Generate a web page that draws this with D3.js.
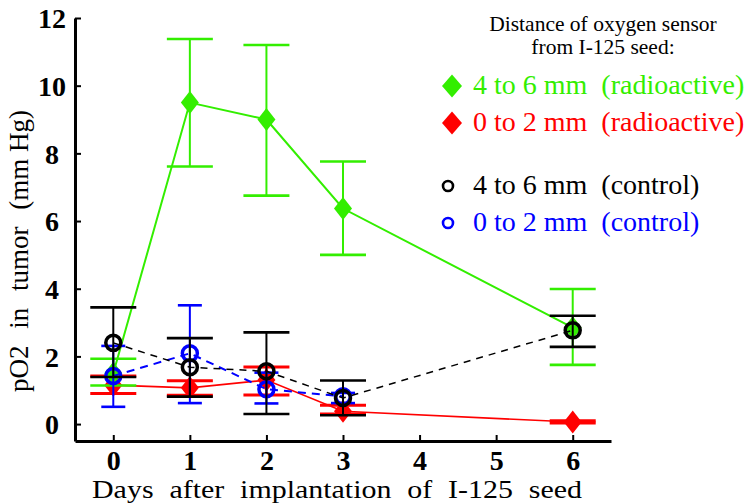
<!DOCTYPE html>
<html lang="en">
<head>
    <meta charset="UTF-8">
    <title>pO2 in tumor</title>
    <style>
        body { margin: 0; background: #fff; }
    </style>
</head>
<body>
<div id="chart"></div>
<script src="https://cdn.jsdelivr.net/npm/d3@7"></script>
<script>
    // data
    const days = [0, 1, 2, 3, 6];
    const blueDays = [0, 1, 2, 3];

    const greenMean = [1.5, 9.5, 9.0, 6.37, 2.85];
    const greenHi = [1.93, 11.38, 11.2, 7.76, 3.99];
    const greenLo = [1.14, 7.61, 6.75, 5.0, 1.75];

    const redMean = [1.15, 1.07, 1.3, 0.38, 0.06];
    const redHi = [1.42, 1.28, 1.69, 0.56, 0.1];
    const redLo = [0.9, 0.85, 0.86, 0.3, 0.03];

    const blackMean = [2.4, 1.68, 1.56, 0.77, 2.77];
    const blackHi = [3.45, 2.54, 2.71, 1.29, 3.2];
    const blackLo = [1.39, 0.81, 0.3, 0.26, 2.28];

    const blueMean = [1.42, 2.09, 1.03, 0.82];
    const blueHi = [2.31, 3.51, 1.52, 0.92];
    const blueLo = [0.51, 0.62, 0.61, 0.62];

    const xTicks = [0, 1, 2, 3, 4, 5, 6];
    const yTicks = [0, 2, 4, 6, 8, 10, 12];

    const legendTitle = ["Distance of oxygen sensor", "from I-125 seed:"];
    const legendLabels = ["4 to 6 mm\u00a0 (radioactive)", "0 to 2 mm\u00a0 (radioactive)",
        "4 to 6 mm\u00a0 (control)", "0 to 2 mm\u00a0 (control)"];

    const GREEN = "#33ee00", RED = "#ff0000", BLUE = "#0000ff", BLACK = "#000";
    const SERIF = "'Liberation Serif', 'Times New Roman', Times, serif";

    const width = 753, height = 503;

    let svg = d3.select("#chart")
        .append("svg")
        .attr("width", width)
        .attr("height", height)
        .attr("font-family", SERIF);

    var x = d3.scaleLinear().domain([-0.5, 6.5]).range([75, 611]);
    var y = d3.scaleLinear().domain([-0.5, 12]).range([441, 18]);

    // axes
    var xAxis = d3.axisBottom(x).tickValues(xTicks).tickFormat(d3.format("d"))
        .tickSizeInner(-6).tickSizeOuter(0);
    var yAxis = d3.axisLeft(y).tickValues(yTicks).tickFormat(d3.format("d"))
        .tickSizeInner(-6).tickSizeOuter(0);

    let gx = svg.append("g").attr("transform", "translate(0,441)").call(xAxis);
    let gy = svg.append("g").attr("transform", "translate(75,0)").call(yAxis);

    [gx, gy].forEach(g => {
        g.attr("font-family", SERIF).attr("font-size", 28);
        g.select(".domain").attr("stroke", BLACK).attr("stroke-width", 3);
        g.selectAll(".tick line").attr("stroke", BLACK).attr("stroke-width", 2);
        g.selectAll(".tick text").attr("fill", BLACK).attr("font-weight", "bold");
    });
    gx.selectAll(".tick text").attr("y", 9).attr("dy", "0.71em");
    gy.selectAll(".tick text").attr("text-anchor", "middle").attr("x", -23).attr("dy", "0.35em");

    // axis titles
    svg.append("text")
        .attr("x", 337).attr("y", 498)
        .attr("text-anchor", "middle")
        .attr("font-size", 25)
        .attr("word-spacing", 7)
        .attr("textLength", 490)
        .attr("lengthAdjust", "spacingAndGlyphs")
        .text("Days after implantation of I-125 seed");

    svg.append("text")
        .attr("transform", "translate(28,251) rotate(-90)")
        .attr("text-anchor", "middle")
        .attr("font-size", 27)
        .attr("word-spacing", 10)
        .text("pO2 in tumor (mm\u2005Hg)");

    let plot = svg.append("g");

    function errorBars(xs, hi, lo, color, half, capW) {
        let g = plot.append("g");
        xs.forEach((d, i) => {
            g.append("line").attr("x1", x(d)).attr("x2", x(d))
                .attr("y1", y(hi[i])).attr("y2", y(lo[i]))
                .attr("stroke", color).attr("stroke-width", 2);
            [hi[i], lo[i]].forEach(v => {
                g.append("line").attr("x1", x(d) - half).attr("x2", x(d) + half)
                    .attr("y1", y(v)).attr("y2", y(v))
                    .attr("stroke", color).attr("stroke-width", capW);
            });
        });
    }

    function series(xs, mean, color, dash, lw) {
        let pts = xs.map((d, i) => [x(d), y(mean[i])]);
        plot.append("path")
            .attr("d", d3.line()(pts))
            .attr("fill", "none")
            .attr("stroke", color)
            .attr("stroke-width", lw)
            .attr("stroke-dasharray", dash);
        return pts;
    }

    function diamonds(pts, color, hw, hh) {
        plot.append("g").selectAll("path")
            .data(pts)
            .join("path")
            .attr("d", p => `M${p[0]},${p[1] - hh}L${p[0] + hw},${p[1]}L${p[0]},${p[1] + hh}L${p[0] - hw},${p[1]}Z`)
            .attr("fill", color);
    }

    function circles(pts, color, r, sw) {
        plot.append("g").selectAll("circle")
            .data(pts)
            .join("circle")
            .attr("cx", p => p[0]).attr("cy", p => p[1])
            .attr("r", r)
            .attr("fill", "none")
            .attr("stroke", color)
            .attr("stroke-width", sw);
    }

    // red: 0-2 mm radioactive
    errorBars(days, redHi, redLo, RED, 23, 3);
    let redPts = series(days, redMean, RED, null, 1.6);
    diamonds(redPts, RED, 9, 11.5);

    // green: 4-6 mm radioactive
    errorBars(days, greenHi, greenLo, GREEN, 23, 2.6);
    let greenPts = series(days, greenMean, GREEN, null, 2);
    diamonds(greenPts, GREEN, 9, 11.5);

    // blue: 0-2 mm control
    errorBars(blueDays, blueHi, blueLo, BLUE, 12, 2.6);
    let bluePts = series(blueDays, blueMean, BLUE, "8,6", 2);
    circles(bluePts, BLUE, 7.5, 3.5);

    // black: 4-6 mm control
    errorBars(days, blackHi, blackLo, BLACK, 23, 2.6);
    let blackPts = series(days, blackMean, BLACK, "7,6", 1.5);
    circles(blackPts, BLACK, 7.5, 3.5);

    // legend
    let lg = svg.append("g");
    legendTitle.forEach((t, i) => {
        lg.append("text")
            .attr("x", 603)
            .attr("y", 31 + i * 23)
            .attr("text-anchor", "middle")
            .attr("font-size", 21.5)
            .text(t);
    });

    const legendColors = [GREEN, RED, BLACK, BLUE];
    const legendY = [86, 123, 186, 223];
    legendLabels.forEach((t, i) => {
        lg.append("text")
            .attr("x", 473).attr("y", legendY[i] + 8)
            .attr("fill", legendColors[i])
            .attr("font-size", 28)
            .text(t);
        if (i < 2) {
            let cx = 452, cy = legendY[i];
            lg.append("path")
                .attr("d", `M${cx},${cy - 11.5}L${cx + 10},${cy}L${cx},${cy + 11.5}L${cx - 10},${cy}Z`)
                .attr("fill", legendColors[i]);
        } else {
            lg.append("circle")
                .attr("cx", 448).attr("cy", legendY[i]).attr("r", 5)
                .attr("fill", "none")
                .attr("stroke", legendColors[i])
                .attr("stroke-width", 2.6);
        }
    });
</script>
</body>
</html>
